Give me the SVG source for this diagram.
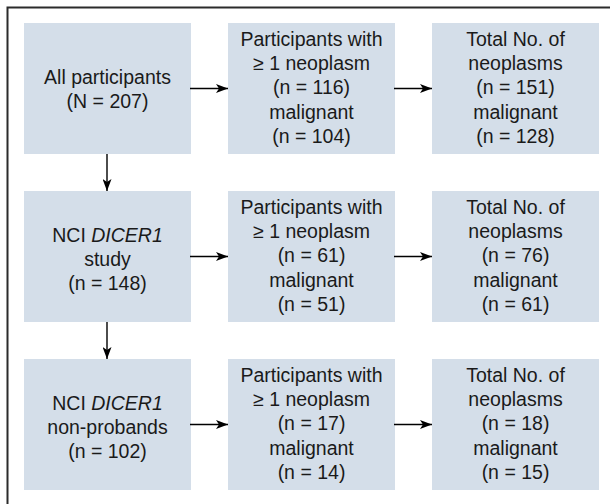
<svg xmlns="http://www.w3.org/2000/svg" width="610" height="504" viewBox="0 0 610 504">
<defs>
<marker id="ah" markerWidth="12" markerHeight="9" refX="12" refY="4.5" orient="auto" markerUnits="userSpaceOnUse">
<path d="M0,0 L12,4.5 L0,9 L3,4.5 Z" fill="#000"/>
</marker>
<style>
.box{fill:#d4dee9;}
.t{font-family:"Liberation Sans",Arial,sans-serif;font-size:19.5px;fill:#1a1a1a;text-anchor:middle;}
.c{stroke:#000;stroke-width:1.4;fill:none;marker-end:url(#ah);}
</style>
</defs>
<rect x="0" y="0" width="610" height="504" fill="#fff"/>
<path d="M7.5,504 V7.5 H610" fill="none" stroke="#2b2b2b" stroke-width="2"/>

<g id="n1">
<rect class="box" x="24" y="23" width="167" height="131"/>
<text class="t" x="107.5" y="84">All participants</text>
<text class="t" x="107.5" y="108">(N = 207)</text>
</g>
<g id="n2">
<rect class="box" x="228" y="23" width="167" height="131"/>
<text class="t" x="311.5" y="46">Participants with</text>
<text class="t" x="311.5" y="70.2">≥ 1 neoplasm</text>
<text class="t" x="311.5" y="94.4">(n = 116)</text>
<text class="t" x="311.5" y="118.6">malignant</text>
<text class="t" x="311.5" y="142.8">(n = 104)</text>
</g>
<g id="n3">
<rect class="box" x="432" y="23" width="167" height="131"/>
<text class="t" x="515.5" y="46">Total No. of</text>
<text class="t" x="515.5" y="70.2">neoplasms</text>
<text class="t" x="515.5" y="94.4">(n = 151)</text>
<text class="t" x="515.5" y="118.6">malignant</text>
<text class="t" x="515.5" y="142.8">(n = 128)</text>
</g>

<g id="n4">
<rect class="box" x="24" y="191" width="167" height="131"/>
<text class="t" x="107.5" y="242">NCI <tspan font-style="italic">DICER1</tspan></text>
<text class="t" x="107.5" y="266.2">study</text>
<text class="t" x="107.5" y="290.4">(n = 148)</text>
</g>
<g id="n5">
<rect class="box" x="228" y="191" width="167" height="131"/>
<text class="t" x="311.5" y="214">Participants with</text>
<text class="t" x="311.5" y="238.2">≥ 1 neoplasm</text>
<text class="t" x="311.5" y="262.4">(n = 61)</text>
<text class="t" x="311.5" y="286.6">malignant</text>
<text class="t" x="311.5" y="310.8">(n = 51)</text>
</g>
<g id="n6">
<rect class="box" x="432" y="191" width="167" height="131"/>
<text class="t" x="515.5" y="214">Total No. of</text>
<text class="t" x="515.5" y="238.2">neoplasms</text>
<text class="t" x="515.5" y="262.4">(n = 76)</text>
<text class="t" x="515.5" y="286.6">malignant</text>
<text class="t" x="515.5" y="310.8">(n = 61)</text>
</g>

<g id="n7">
<rect class="box" x="24" y="359" width="167" height="131"/>
<text class="t" x="107.5" y="410">NCI <tspan font-style="italic">DICER1</tspan></text>
<text class="t" x="107.5" y="434.2">non-probands</text>
<text class="t" x="107.5" y="458.4">(n = 102)</text>
</g>
<g id="n8">
<rect class="box" x="228" y="359" width="167" height="131"/>
<text class="t" x="311.5" y="382">Participants with</text>
<text class="t" x="311.5" y="406.2">≥ 1 neoplasm</text>
<text class="t" x="311.5" y="430.4">(n = 17)</text>
<text class="t" x="311.5" y="454.6">malignant</text>
<text class="t" x="311.5" y="478.8">(n = 14)</text>
</g>
<g id="n9">
<rect class="box" x="432" y="359" width="167" height="131"/>
<text class="t" x="515.5" y="382">Total No. of</text>
<text class="t" x="515.5" y="406.2">neoplasms</text>
<text class="t" x="515.5" y="430.4">(n = 18)</text>
<text class="t" x="515.5" y="454.6">malignant</text>
<text class="t" x="515.5" y="478.8">(n = 15)</text>
</g>

<g id="connectors">
<line class="c" x1="190" y1="88.5" x2="228" y2="88.5"/>
<line class="c" x1="394" y1="88.5" x2="432" y2="88.5"/>
<line class="c" x1="190" y1="256.5" x2="228" y2="256.5"/>
<line class="c" x1="394" y1="256.5" x2="432" y2="256.5"/>
<line class="c" x1="190" y1="424.5" x2="228" y2="424.5"/>
<line class="c" x1="394" y1="424.5" x2="432" y2="424.5"/>
<line class="c" x1="107" y1="154" x2="107" y2="191"/>
<line class="c" x1="107" y1="322" x2="107" y2="359"/>
</g>
</svg>
